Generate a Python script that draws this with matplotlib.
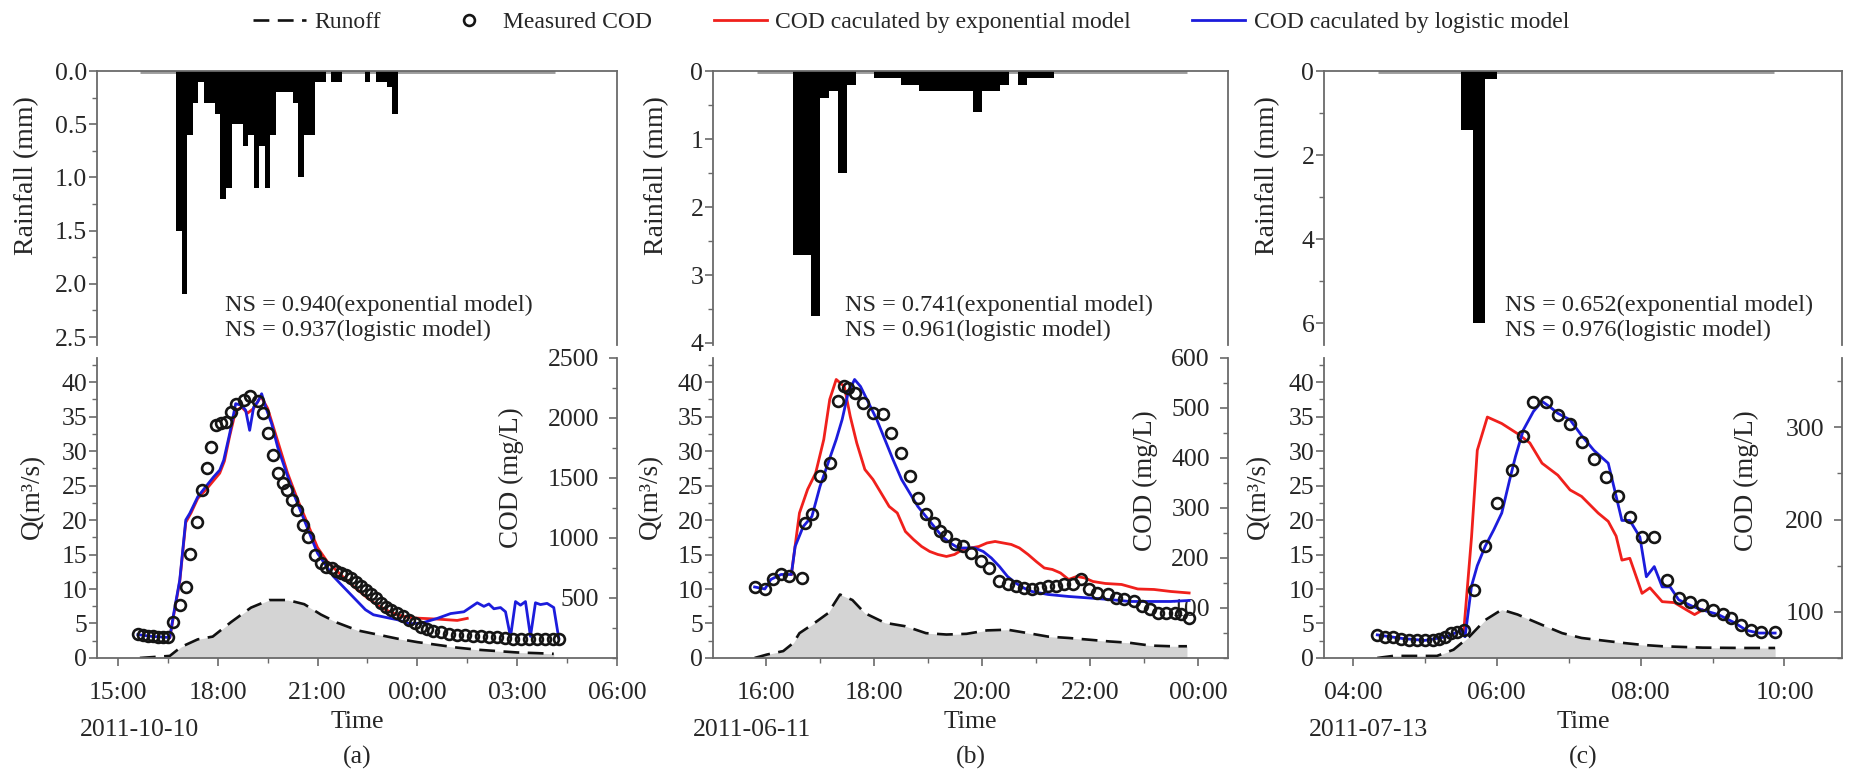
import matplotlib
matplotlib.use("Agg")
import matplotlib.pyplot as plt
from matplotlib.lines import Line2D
from matplotlib.ticker import MultipleLocator, FixedLocator, FuncFormatter, FormatStrFormatter

plt.rcParams["font.family"] = ["Liberation Serif", "DejaVu Serif"]

INK = "#262626"
SPINE = "#6a6a6a"
RED = "#f0201c"
BLUE = "#1c1cdc"

# times are hours from 00:00 of the event day (values > 24 are the next day)

# ---------------- (a) 2011-10-10 ----------------
rain_a_start = 16.75          # 10-min rainfall (mm)
rain_a = [1.5, 2.1, 0.6, 0.3, 0.1, 0.3, 0.3, 0.4, 1.2, 1.1, 0.5, 0.5, 0.7, 0.6, 1.1,
          0.7, 1.1, 0.6, 0.2, 0.2, 0.2, 0.3, 1.0, 0.6, 0.6, 0.1, 0.1, 0.0, 0.1, 0.1,
          0.0, 0.0, 0.0, 0.0, 0.1, 0.0, 0.1, 0.1, 0.15, 0.4]
rain_a_span = (15.66, 28.13)

runoff_a_t = [15.66, 16.56, 16.9, 17.4, 17.85, 18.4, 19.0, 19.55, 20.1, 20.6, 21.1, 21.6,
              22.2, 22.8, 23.4, 24.0, 24.6, 25.2, 25.8, 26.4, 27.0, 27.6, 28.1]
runoff_a = [0.0, 0.3, 1.6, 2.7, 3.1, 5.2, 7.3, 8.4, 8.4, 7.8, 6.3, 5.1,
            4.0, 3.4, 2.8, 2.3, 1.9, 1.5, 1.2, 1.0, 0.8, 0.7, 0.6]

cod_a_t = [15.6, 15.75, 15.9, 16.05, 16.2, 16.35, 16.5, 16.66, 16.86, 17.04, 17.17, 17.37,
           17.52, 17.67, 17.79, 17.95, 18.1, 18.25, 18.4, 18.56, 18.78, 18.98, 19.2, 19.36,
           19.52, 19.67, 19.82, 19.95, 20.07, 20.22, 20.37, 20.57, 20.72, 20.92, 21.1, 21.25,
           21.42, 21.57, 21.72, 21.87, 22.02, 22.17, 22.32, 22.47, 22.62, 22.77, 22.92, 23.07,
           23.22, 23.4, 23.58, 23.76, 23.94, 24.12, 24.3, 24.48, 24.72, 24.96, 25.2, 25.44,
           25.68, 25.92, 26.16, 26.4, 26.64, 26.88, 27.12, 27.36, 27.6, 27.84, 28.08, 28.26]
cod_a = [200, 188, 182, 180, 178, 178, 176, 303, 442, 594, 867, 1136,
         1400, 1581, 1761, 1942, 1955, 1965, 2050, 2118, 2150, 2185, 2140, 2040,
         1872, 1692, 1539, 1456, 1400, 1317, 1233, 1108, 1011, 858, 790, 760,
         747, 725, 705, 692, 665, 630, 598, 567, 532, 500, 462, 425,
         398, 374, 346, 319, 290, 262, 242, 226, 213, 202, 194, 190,
         186, 182, 178, 175, 168, 162, 158, 158, 158, 158, 158, 160]

exp_a_t = [16.56, 16.68, 16.86, 17.04, 17.2, 17.4, 17.64, 17.88, 18.06, 18.2, 18.36, 18.54,
           18.72, 18.9, 19.08, 19.3, 19.5, 19.7, 19.9, 20.1, 20.4, 20.7, 21.0, 21.3,
           21.6, 21.9, 22.2, 22.5, 22.8, 23.1, 23.4, 23.7, 24.0, 24.6, 25.2, 25.5]
exp_a = [170, 360, 640, 1130, 1210, 1330, 1400, 1480, 1540, 1640, 1850, 2060,
         2090, 2040, 2080, 2180, 2080, 1900, 1720, 1540, 1320, 1120, 920, 800,
         720, 640, 568, 500, 440, 395, 360, 340, 332, 324, 313, 330]

log_a_t = [15.6, 16.0, 16.3, 16.56, 16.68, 16.86, 17.04, 17.16, 17.4, 17.64, 17.88, 18.06,
           18.18, 18.36, 18.54, 18.72, 18.84, 18.96, 19.08, 19.2, 19.32, 19.44, 19.62, 19.8,
           20.04, 20.28, 20.52, 20.76, 21.0, 21.24, 21.48, 21.72, 21.96, 22.2, 22.44, 22.68,
           22.92, 23.16, 23.4, 23.76, 24.12, 24.6, 25.0, 25.4, 25.8, 26.0, 26.15, 26.3,
           26.5, 26.65, 26.8, 26.95, 27.1, 27.25, 27.4, 27.55, 27.7, 27.9, 28.1, 28.25]
log_a = [195, 180, 175, 170, 374, 651, 1150, 1205, 1343, 1427, 1510, 1565,
         1648, 1870, 2119, 2105, 2064, 1897, 2091, 2133, 2202, 2091, 1953, 1759,
         1565, 1371, 1205, 1039, 873, 776, 679, 609, 540, 471, 402, 360,
         346, 332, 319, 285, 290, 330, 370, 385, 460, 430, 450, 410,
         420, 385, 175, 470, 440, 470, 180, 460, 445, 455, 420, 165]

# ---------------- (b) 2011-06-11 ----------------
rain_b_start = 16.5
rain_b = [2.7, 2.7, 3.6, 0.4, 0.3, 1.5, 0.2, 0.0, 0.0, 0.1, 0.1, 0.1, 0.2, 0.2, 0.3,
          0.3, 0.3, 0.3, 0.3, 0.3, 0.6, 0.3, 0.3, 0.2, 0.0, 0.2, 0.1, 0.1, 0.1]
rain_b_span = (15.83, 23.8)

runoff_b_t = [15.79, 16.02, 16.32, 16.51, 16.62, 16.85, 17.15, 17.37, 17.6, 17.83, 18.2, 18.58,
              18.96, 19.34, 19.71, 20.09, 20.47, 20.85, 21.22, 21.6, 21.98, 22.35, 22.73,
              23.11, 23.49, 23.79]
runoff_b = [0.0, 0.5, 1.0, 2.2, 3.6, 4.8, 6.5, 9.2, 8.4, 6.5, 5.1, 4.6,
            3.6, 3.4, 3.5, 4.0, 4.1, 3.6, 3.1, 2.9, 2.65, 2.4, 2.2,
            1.8, 1.7, 1.7]

cod_b_t = [15.79, 15.98, 16.13, 16.28, 16.43, 16.66, 16.73, 16.85, 17.0, 17.18, 17.34, 17.45,
           17.52, 17.64, 17.79, 17.98, 18.17, 18.32, 18.49, 18.66, 18.81, 18.96, 19.11, 19.22,
           19.34, 19.49, 19.64, 19.79, 19.98, 20.13, 20.32, 20.47, 20.62, 20.77, 20.92, 21.07,
           21.22, 21.37, 21.52, 21.68, 21.83, 21.98, 22.13, 22.32, 22.47, 22.62, 22.81, 22.96,
           23.11, 23.26, 23.41, 23.56, 23.68, 23.83]
cod_b = [142, 137, 157, 167, 163, 160, 270, 287, 363, 390, 513, 543,
         540, 530, 510, 490, 487, 450, 410, 363, 320, 287, 270, 253,
         243, 227, 223, 210, 193, 180, 153, 147, 143, 140, 137, 140,
         143, 143, 147, 147, 157, 137, 130, 127, 120, 117, 113, 103,
         97, 90, 90, 90, 87, 80]

exp_b_t = [16.47, 16.62, 16.77, 16.92, 17.07, 17.18, 17.3, 17.45, 17.56, 17.68, 17.83, 17.98,
           18.13, 18.28, 18.43, 18.58, 18.73, 18.88, 19.03, 19.18, 19.34, 19.49, 19.64, 19.79,
           19.94, 20.09, 20.24, 20.39, 20.54, 20.69, 20.85, 21.0, 21.15, 21.3, 21.45, 21.6,
           21.75, 21.9, 22.05, 22.28, 22.58, 22.88, 23.18, 23.49, 23.83]
exp_b = [167, 290, 337, 370, 437, 517, 557, 543, 483, 430, 377, 357,
         330, 303, 290, 253, 237, 223, 213, 207, 203, 207, 217, 220,
         223, 230, 233, 230, 227, 220, 207, 193, 180, 177, 170, 157,
         163, 160, 153, 149, 147, 138, 137, 133, 130]

log_b_t = [15.79, 15.98, 16.09, 16.28, 16.47, 16.54, 16.69, 16.85, 17.0, 17.15, 17.3, 17.41,
           17.52, 17.64, 17.75, 17.9, 18.05, 18.2, 18.35, 18.51, 18.66, 18.81, 18.96, 19.11,
           19.26, 19.41, 19.56, 19.86, 20.02, 20.17, 20.32, 20.47, 20.62, 20.77, 20.92, 21.22,
           21.6, 21.98, 22.35, 22.73, 23.11, 23.49, 23.83]
log_b = [142, 138, 157, 167, 167, 223, 263, 283, 343, 390, 437, 477,
         530, 557, 543, 510, 477, 437, 397, 357, 330, 303, 283, 263,
         243, 230, 220, 220, 213, 200, 183, 163, 150, 140, 133, 127,
         123, 120, 117, 113, 113, 113, 115]

# ---------------- (c) 2011-07-13 ----------------
rain_c_start = 5.5
rain_c = [1.4, 6.0, 0.2]
rain_c_span = (4.35, 9.86)

runoff_c_t = [4.34, 4.56, 5.17, 5.4, 5.62, 5.84, 6.07, 6.29, 6.63, 6.91, 7.18, 7.74,
              8.02, 8.3, 8.86, 9.42, 9.87]
runoff_c = [0.0, 0.3, 0.3, 1.2, 3.1, 5.5, 7.0, 6.3, 4.8, 3.6, 2.9, 2.2,
            1.9, 1.7, 1.5, 1.45, 1.45]

cod_c_t = [4.34, 4.45, 4.56, 4.67, 4.78, 4.89, 5.01, 5.12, 5.2, 5.28, 5.37, 5.45,
           5.54, 5.69, 5.84, 6.01, 6.21, 6.37, 6.51, 6.68, 6.85, 7.02, 7.18, 7.35,
           7.52, 7.69, 7.85, 8.02, 8.19, 8.36, 8.53, 8.69, 8.86, 9.0, 9.14, 9.25,
           9.39, 9.53, 9.67, 9.87]
cod_c = [75, 73, 73, 71, 70, 69, 69, 70, 71, 73, 77, 78,
         80, 124, 171, 218, 254, 290, 327, 327, 313, 304, 284, 266,
         246, 225, 203, 181, 181, 134, 115, 111, 107, 102, 98, 93,
         86, 80, 78, 78]

exp_c_t = [5.54, 5.65, 5.73, 5.87, 6.07, 6.29, 6.46, 6.63, 6.85, 7.02, 7.18, 7.41,
           7.55, 7.66, 7.74, 7.85, 8.02, 8.13, 8.3, 8.47, 8.64, 8.75, 8.86]
exp_c = [77, 181, 275, 311, 304, 293, 283, 261, 248, 232, 225, 207,
         198, 182, 156, 158, 120, 126, 111, 110, 102, 97, 102]

log_c_t = [4.34, 4.7, 5.0, 5.3, 5.51, 5.56, 5.65, 5.73, 5.84, 5.96, 6.07, 6.18,
           6.26, 6.37, 6.51, 6.63, 6.74, 6.85, 7.02, 7.18, 7.35, 7.55, 7.63, 7.74,
           7.85, 7.99, 8.08, 8.19, 8.3, 8.41, 8.53, 8.72, 8.86, 9.08, 9.31, 9.47,
           9.64, 9.87]
log_c = [75, 71, 69, 73, 80, 73, 128, 150, 171, 189, 207, 243,
         268, 297, 317, 328, 322, 315, 308, 291, 275, 261, 235, 199,
         199, 181, 138, 149, 127, 127, 113, 106, 102, 97, 88, 80,
         77, 77]

ns_exp = ["0.940", "0.741", "0.652"]
ns_log = ["0.937", "0.961", "0.976"]
dates = ["2011-10-10", "2011-06-11", "2011-07-13"]
tags = ["(a)", "(b)", "(c)"]

panels = [
    dict(rain_start=rain_a_start, rain=rain_a, span=rain_a_span,
         q_t=runoff_a_t, q=runoff_a, c_t=cod_a_t, c=cod_a,
         e_t=exp_a_t, e=exp_a, l_t=log_a_t, l=log_a,
         xlim=(14.37, 30.0), xmaj=3, xmin=1.5,
         rlim=2.575, rmaj=0.5, rfmt="%.1f",
         clim=(0, 2500), cticks=[500, 1000, 1500, 2000, 2500], cmin=250,
         box=(0.0524, 0.2811), rlab_x=-0.135, qlab_x=-0.123, clab=(0.798, 0.60),
         ns_x=0.246, date_x=0.081),
    dict(rain_start=rain_b_start, rain=rain_b, span=rain_b_span,
         q_t=runoff_b_t, q=runoff_b, c_t=cod_b_t, c=cod_b,
         e_t=exp_b_t, e=exp_b, l_t=log_b_t, l=log_b,
         xlim=(15.02, 24.55), xmaj=2, xmin=1,
         rlim=4.03, rmaj=1, rfmt="%d",
         clim=(0, 600), cticks=[100, 200, 300, 400, 500, 600], cmin=50,
         box=(0.3854, 0.2784), rlab_x=-0.109, qlab_x=-0.122, clab=(0.839, 0.59),
         ns_x=0.256, date_x=0.076),
    dict(rain_start=rain_c_start, rain=rain_c, span=rain_c_span,
         q_t=runoff_c_t, q=runoff_c, c_t=cod_c_t, c=cod_c,
         e_t=exp_c_t, e=exp_c, l_t=log_c_t, l=log_c,
         xlim=(3.6, 10.8), xmaj=2, xmin=1,
         rlim=6.52, rmaj=2, rfmt="%d",
         clim=(50, 375), cticks=[100, 200, 300], cmin=50,
         box=(0.7157, 0.2800), rlab_x=-0.108, qlab_x=-0.127, clab=(0.815, 0.59),
         ns_x=0.349, date_x=0.085),
]

TOP_Y, TOP_H = 0.5548, 0.3535
BOT_Y, BOT_H = 0.1510, 0.3871
TICK_FS = 18.5
LAB_FS = 19.5

hour_fmt = FuncFormatter(lambda v, pos: f"{int(round(v)) % 24:02d}:00")
dash = (0, (6, 3.2))

fig = plt.figure(figsize=(18.5, 7.75), dpi=100)

for i, p in enumerate(panels):
    x0, w = p["box"]

    # rainfall hyetograph (inverted)
    ax_r = fig.add_axes([x0, TOP_Y, w, TOP_H])
    n = len(p["rain"])
    starts = [p["rain_start"] + k / 6 for k in range(n)]
    ax_r.hlines(0, p["span"][0], p["span"][1], color="#9c9c9c", lw=3.5, zorder=1)
    ax_r.bar(starts, p["rain"], width=1 / 6, align="edge", color="black", lw=0, zorder=2)
    ax_r.set_xlim(*p["xlim"])
    ax_r.set_ylim(p["rlim"], 0)
    ax_r.yaxis.set_major_locator(MultipleLocator(p["rmaj"]))
    ax_r.yaxis.set_minor_locator(MultipleLocator(p["rmaj"] / 2))
    ax_r.yaxis.set_major_formatter(FormatStrFormatter(p["rfmt"]))
    ax_r.tick_params(axis="x", which="both", bottom=False, labelbottom=False)
    ax_r.tick_params(axis="y", which="major", direction="out", length=6, width=1.2,
                     color=SPINE, labelsize=TICK_FS, labelcolor=INK, pad=1)
    ax_r.tick_params(axis="y", which="minor", direction="out", length=3.5, width=1.0, color=SPINE)
    ax_r.spines["bottom"].set_visible(False)
    for s in ("left", "top", "right"):
        ax_r.spines[s].set_color(SPINE)
        ax_r.spines[s].set_linewidth(1.3)
    ax_r.set_ylabel("Rainfall (mm)", fontsize=20, color=INK)
    ax_r.yaxis.set_label_coords(p["rlab_x"], 0.62)
    ax_r.yaxis.label.set_va("center")
    ax_r.text(p["ns_x"], 0.10,
              f"NS = {ns_exp[i]}(exponential model)\nNS = {ns_log[i]}(logistic model)",
              transform=ax_r.transAxes, fontsize=17.5, color=INK, va="center", ha="left",
              linespacing=1.25)

    # runoff (left) and COD (right)
    ax_q = fig.add_axes([x0, BOT_Y, w, BOT_H])
    ax_q.fill_between(p["q_t"], p["q"], 0, color="#d4d4d4", lw=0, zorder=1)
    ax_q.plot(p["q_t"], p["q"], color="#111111", lw=1.9, ls=dash, zorder=2)
    ax_q.set_xlim(*p["xlim"])
    ax_q.set_ylim(0, 43.5)
    ax_q.yaxis.set_major_locator(MultipleLocator(5))
    ax_q.yaxis.set_minor_locator(MultipleLocator(2.5))
    ax_q.xaxis.set_major_locator(MultipleLocator(p["xmaj"]))
    ax_q.xaxis.set_minor_locator(MultipleLocator(p["xmin"]))
    ax_q.xaxis.set_major_formatter(hour_fmt)
    ax_q.tick_params(axis="both", which="major", direction="out", length=6, width=1.2,
                     color=SPINE, labelsize=TICK_FS, labelcolor=INK)
    ax_q.tick_params(axis="both", which="minor", direction="out", length=3.5, width=1.0,
                     color=SPINE)
    ax_q.tick_params(axis="y", which="major", pad=1)
    ax_q.tick_params(axis="x", which="major", pad=11)
    ax_q.spines["top"].set_visible(False)
    ax_q.spines["right"].set_visible(False)
    for s in ("left", "bottom"):
        ax_q.spines[s].set_color(SPINE)
        ax_q.spines[s].set_linewidth(1.3)
    ax_q.set_ylabel("Q(m³/s)", fontsize=LAB_FS, color=INK)
    ax_q.yaxis.set_label_coords(p["qlab_x"], 0.537)
    ax_q.yaxis.label.set_va("center")

    ax_c = ax_q.twinx()
    ax_c.plot(p["e_t"], p["e"], color=RED, lw=2.0, zorder=3)
    ax_c.plot(p["l_t"], p["l"], color=BLUE, lw=2.0, zorder=4)
    ax_c.plot(p["c_t"], p["c"], ls="none", marker="o", ms=7.8, mfc="none",
              mec="#151515", mew=1.9, zorder=5)
    ax_c.set_ylim(*p["clim"])
    ax_c.yaxis.set_major_locator(FixedLocator(p["cticks"]))
    ax_c.yaxis.set_minor_locator(MultipleLocator(p["cmin"]))
    ax_c.tick_params(axis="y", which="major", direction="in", length=6, width=1.2,
                     color=SPINE, labelsize=TICK_FS, labelcolor=INK, pad=-13)
    ax_c.tick_params(axis="y", which="minor", direction="in", length=3.5, width=1.0,
                     color=SPINE)
    for lbl in ax_c.get_yticklabels():
        lbl.set_horizontalalignment("right")
    for s in ("top", "left", "bottom"):
        ax_c.spines[s].set_visible(False)
    ax_c.spines["right"].set_color(SPINE)
    ax_c.spines["right"].set_linewidth(1.3)
    ax_c.set_ylabel("COD (mg/L)", fontsize=LAB_FS, color=INK)
    ax_c.yaxis.set_label_coords(*p["clab"])
    ax_c.yaxis.label.set_va("center")

    ax_q.text(0.5, -0.213, "Time", transform=ax_q.transAxes, fontsize=TICK_FS,
              color=INK, ha="center", va="center")
    ax_q.text(p["date_x"], -0.24, dates[i], transform=ax_q.transAxes, fontsize=TICK_FS,
              color=INK, ha="center", va="center")
    ax_q.text(0.5, -0.33, tags[i], transform=ax_q.transAxes, fontsize=TICK_FS,
              color=INK, ha="center", va="center")

handles = [
    Line2D([], [], color="#111111", lw=1.9, ls=dash),
    Line2D([], [], ls="none", marker="o", ms=7.8, mfc="none", mec="#151515", mew=1.9),
    Line2D([], [], color=RED, lw=2.0),
    Line2D([], [], color=BLUE, lw=2.0),
]
labels = ["Runoff", "Measured COD", "COD caculated by exponential model",
          "COD caculated by logistic model"]
fig.legend(handles, labels, loc="center", bbox_to_anchor=(0.4924, 0.9716), ncol=4,
           frameon=False, fontsize=17, handlelength=2.25, handletextpad=0.35,
           columnspacing=2.6, labelcolor=INK)

fig.savefig("out.png", dpi=100)
